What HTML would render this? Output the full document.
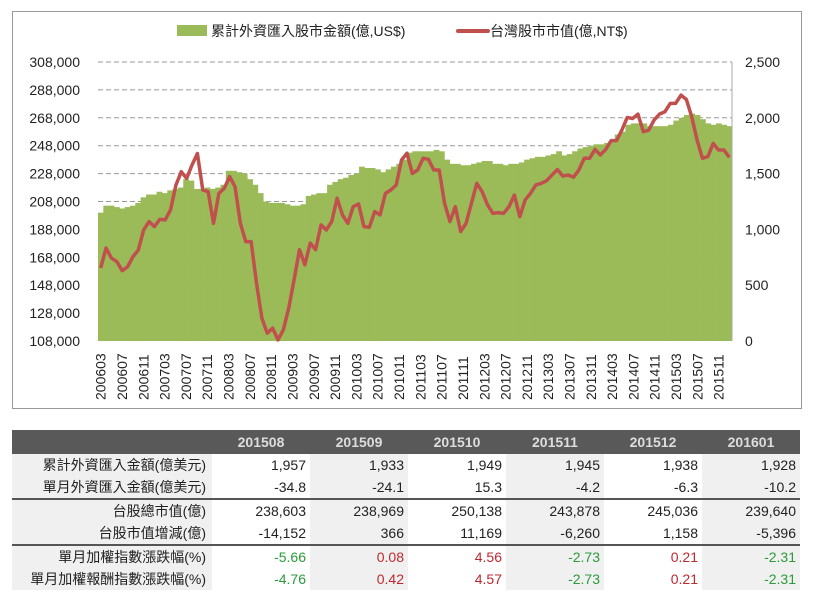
<!DOCTYPE html>
<html><head><meta charset="utf-8">
<style>
body{margin:0;width:820px;height:609px;background:#fff;font-family:"Liberation Sans","Noto Sans CJK TC",sans-serif;position:relative;overflow:hidden}
#frame{position:absolute;left:12px;top:11px;width:790px;height:398px;border:1px solid #999;box-sizing:border-box}
table{position:absolute;left:12px;top:430px;border-collapse:collapse;font-size:14px;color:#222}
td,th{height:22px;padding:0 4px;text-align:right;white-space:nowrap}
th{background:#595959;color:#ddd;font-weight:bold;font-size:14px;height:24px;text-align:center}
td.l{background:#f0f0f0;width:186px;padding-right:6px}
.c{width:90px}
.g{background:#f0f0f0}
tr.sep td{border-top:2px solid #555}
.up{color:#c0282f}.dn{color:#2a9a3a}
</style></head><body>
<div id="frame"></div>
<svg id="chart" width="820" height="420" style="position:absolute;left:0;top:0"></svg>
<table>
<tr><th style="width:192px;"></th><th class="c">201508</th><th class="c">201509</th><th class="c">201510</th><th class="c">201511</th><th class="c">201512</th><th class="c">201601</th></tr>
<tr><td class="l">累計外資匯入金額(億美元)</td><td>1,957</td><td class="g">1,933</td><td>1,949</td><td class="g">1,945</td><td>1,938</td><td class="g">1,928</td></tr>
<tr><td class="l">單月外資匯入金額(億美元)</td><td>-34.8</td><td class="g">-24.1</td><td>15.3</td><td class="g">-4.2</td><td>-6.3</td><td class="g">-10.2</td></tr>
<tr class="sep"><td class="l">台股總市值(億)</td><td>238,603</td><td class="g">238,969</td><td>250,138</td><td class="g">243,878</td><td>245,036</td><td class="g">239,640</td></tr>
<tr><td class="l">台股市值增減(億)</td><td>-14,152</td><td class="g">366</td><td>11,169</td><td class="g">-6,260</td><td>1,158</td><td class="g">-5,396</td></tr>
<tr class="sep"><td class="l">單月加權指數漲跌幅(%)</td><td class="dn">-5.66</td><td class="g up">0.08</td><td class="up">4.56</td><td class="g dn">-2.73</td><td class="up">0.21</td><td class="g dn">-2.31</td></tr>
<tr><td class="l">單月加權報酬指數漲跌幅(%)</td><td class="dn">-4.76</td><td class="g up">0.42</td><td class="up">4.57</td><td class="g dn">-2.73</td><td class="up">0.21</td><td class="g dn">-2.31</td></tr>
</table>
<script>
const inflow=[200000,205000,205000,204000,203000,204000,205000,207000,211000,213000,213000,215000,214000,216000,217000,218000,224000,223000,217000,217000,218000,217000,218000,220000,230000,230000,229000,228000,224000,220000,214000,208000,207000,207000,207000,206000,205000,205000,206000,212000,213000,214000,214000,220000,222000,224000,225000,227000,228000,233000,232000,232000,231000,229000,231000,233000,235000,238000,243000,244000,244000,244000,244000,245000,244000,238000,235000,235000,234000,234000,235000,236000,237000,237000,235000,235000,234000,235000,235000,236000,238000,239000,240000,240000,241000,242000,244000,241000,242000,244000,246000,247000,248000,249000,249000,250000,252000,256000,258000,263000,264000,264000,264000,262000,262000,262000,262000,263000,266000,268000,270000,271000,270000,267000,264000,263000,264000,263000,262000];
const mktcap=[654,833,743,712,630,665,755,815,995,1070,1025,1090,1085,1175,1397,1517,1457,1577,1680,1353,1338,1054,1323,1368,1473,1383,1054,890,890,519,205,70,115,10,100,295,549,818,683,878,818,1040,995,1070,1279,1130,1054,1204,1228,1025,1019,1160,1130,1323,1353,1398,1622,1683,1502,1532,1637,1628,1532,1532,1234,1070,1204,980,1054,1234,1413,1338,1219,1144,1150,1144,1204,1308,1114,1264,1323,1398,1413,1437,1487,1537,1478,1487,1467,1532,1637,1637,1717,1667,1717,1795,1795,1890,2003,1994,2033,1875,1890,1980,2033,2054,2129,2129,2203,2165,2010,1800,1637,1652,1770,1711,1711,1646];
const leftTicks=[108000,128000,148000,168000,188000,208000,228000,248000,268000,288000,308000];
const rightTicks=[0,500,1000,1500,2000,2500];
const startYear=2006,startMonth=3;
const NS='http://www.w3.org/2000/svg';
const svg=document.getElementById('chart');
const X0=98,X1=732,Y0=341,Y1=62;
const n=inflow.length,bw=(X1-X0)/n;
const nl=mktcap.length,bl=(X1-X0)/nl;
const xc=i=>X0+bw*(i+0.5);
const xl=i=>X0+bl*(i+0.5);
const yL=v=>Y0-(v-108000)/(308000-108000)*(Y0-Y1);
const yR=v=>Y0-v/2500*(Y0-Y1);
function mk(t,a){const e=document.createElementNS(NS,t);for(const k in a)e.setAttribute(k,a[k]);svg.appendChild(e);return e;}
leftTicks.forEach(v=>{
 if(v>108000){const g=mk('line',{x1:X0,x2:X1,y1:yL(v),y2:yL(v),stroke:'#999','stroke-dasharray':'5,3','stroke-width':1});
 
 }
 const t=mk('text',{x:80,y:yL(v)+5,'text-anchor':'end','font-size':14,fill:'#222'});t.textContent=v.toLocaleString('en-US');
 
 
});
rightTicks.forEach(v=>{
 const t=mk('text',{x:745,y:yR(v)+5,'font-size':14,fill:'#222'});t.textContent=v.toLocaleString('en-US');
 
 
});
inflow.forEach((v,i)=>{
 const r=mk('rect',{x:X0+bw*i,y:yL(v),width:bw+0.4,height:Y0-yL(v),fill:'#9bbb59'});
 
 
});
const ax=mk('line',{x1:X1,x2:X1,y1:Y1,y2:Y0,stroke:'#aaa'});


const pl=mk('polyline',{points:mktcap.map((v,i)=>xl(i)+','+yR(v)).join(' '),fill:'none',stroke:'#c0504d','stroke-width':3.5,'stroke-linejoin':'round'});


for(let i=0;i<n;i+=4){
 const m0=startMonth-1+i,y=startYear+Math.floor(m0/12),m=m0%12+1;
 const lab=''+y+(m<10?'0':'')+m;
 const t=mk('text',{transform:`translate(${xc(i)+5},400) rotate(-90)`,'font-size':14,fill:'#222'});t.textContent=lab;
 
 
}
const l1=mk('rect',{x:177,y:25,width:30,height:11,fill:'#9bbb59'});


const t1=mk('text',{x:211,y:36,'font-size':14,fill:'#222'});t1.textContent='累計外資匯入股市金額(億,US$)';


const l2=mk('line',{x1:458,x2:488,y1:31,y2:31,stroke:'#c0504d','stroke-width':4,'stroke-linecap':'round'});


const t2=mk('text',{x:490,y:36,'font-size':14,fill:'#222'});t2.textContent='台灣股市市值(億,NT$)';


</script>
</body></html>
